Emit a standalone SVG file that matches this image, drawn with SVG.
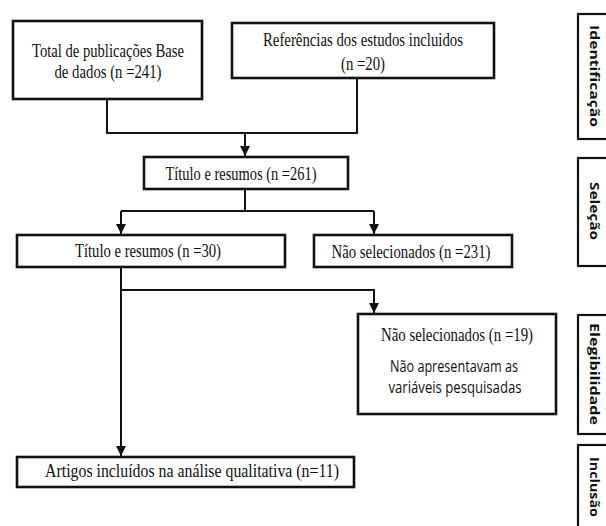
<svg xmlns="http://www.w3.org/2000/svg" width="606" height="526" viewBox="0 0 606 526">
<style>
.box{fill:#fff;stroke:#111;stroke-width:2.6}
.side{fill:#fff;stroke:#111;stroke-width:2.2}
.serif{font-family:"Liberation Serif","Times New Roman",serif;font-size:18px;fill:#111;text-anchor:middle}
.sans{font-family:"Open Sans","Liberation Sans",sans-serif;font-size:16px;fill:#111;text-anchor:middle}
.lab{font-family:"Open Sans","Liberation Sans",sans-serif;font-size:12.5px;font-weight:bold;fill:#111;text-anchor:middle}
.con{fill:none;stroke:#111;stroke-width:2}
</style>
<defs>
<marker id="ah" markerUnits="userSpaceOnUse" markerWidth="10" markerHeight="10" viewBox="0 0 10 10" refX="10" refY="5" orient="auto">
<path d="M0,0 L10,5 L0,10 Z" fill="#111"/>
</marker>
</defs>
<rect width="606" height="526" fill="#fff"/>
<g id="connectors">
<path class="con" d="M107,99 V133 H357 V78"/>
<path class="con" d="M245,133 V156" marker-end="url(#ah)"/>
<path class="con" d="M245,189 V211"/>
<path class="con" d="M121,211 H374"/>
<path class="con" d="M121,211 V234" marker-end="url(#ah)"/>
<path class="con" d="M374,211 V234" marker-end="url(#ah)"/>
<path class="con" d="M121,267 V456" marker-end="url(#ah)"/>
<path class="con" d="M121,290 H374 V313" marker-end="url(#ah)"/>
</g>
<g id="n1">
<rect class="box" x="13" y="21" width="189" height="78"/>
<text class="serif" x="108" y="57" textLength="152" lengthAdjust="spacingAndGlyphs">Total de publicações Base</text>
<text class="serif" x="108" y="78" textLength="107" lengthAdjust="spacingAndGlyphs">de dados (n =241)</text>
</g>
<g id="n2">
<rect class="box" x="232" y="23" width="262" height="55"/>
<text class="serif" x="363" y="46" textLength="200" lengthAdjust="spacingAndGlyphs">Referências dos estudos incluidos</text>
<text class="serif" x="363" y="70" textLength="44" lengthAdjust="spacingAndGlyphs">(n =20)</text>
</g>
<g id="n3">
<rect class="box" x="144" y="157" width="204" height="32"/>
<text class="serif" x="241" y="180" textLength="151" lengthAdjust="spacingAndGlyphs">Título e resumos (n =261)</text>
</g>
<g id="n4">
<rect class="box" x="17" y="235" width="268" height="32"/>
<text class="serif" x="148" y="257" textLength="146" lengthAdjust="spacingAndGlyphs">Título e resumos (n =30)</text>
</g>
<g id="n5">
<rect class="box" x="314" y="235" width="198" height="32"/>
<text class="serif" x="411" y="258" textLength="159" lengthAdjust="spacingAndGlyphs">Não selecionados (n =231)</text>
</g>
<g id="n6">
<rect class="box" x="358" y="314" width="198" height="100"/>
<text class="serif" x="457" y="341" textLength="152" lengthAdjust="spacingAndGlyphs">Não selecionados (n =19)</text>
<text class="sans" x="454" y="372" textLength="128" lengthAdjust="spacingAndGlyphs">Não apresentavam as</text>
<text class="sans" x="455" y="393" textLength="133" lengthAdjust="spacingAndGlyphs">variáveis pesquisadas</text>
</g>
<g id="n7">
<rect class="box" x="17" y="457" width="337" height="30"/>
<text class="serif" x="192" y="477" textLength="294" lengthAdjust="spacingAndGlyphs">Artigos incluídos na análise qualitativa (n=11)</text>
</g>
<g id="s1">
<rect class="side" x="578" y="14" width="40" height="125"/>
<text class="lab" transform="translate(590 76) rotate(90)" textLength="102" lengthAdjust="spacingAndGlyphs">Identificação</text>
</g>
<g id="s2">
<rect class="side" x="578" y="158" width="40" height="108"/>
<text class="lab" transform="translate(590 211) rotate(90)" textLength="58" lengthAdjust="spacingAndGlyphs">Seleção</text>
</g>
<g id="s3">
<rect class="side" x="578" y="315" width="40" height="119"/>
<text class="lab" transform="translate(590 374) rotate(90)" textLength="102" lengthAdjust="spacingAndGlyphs">Elegibilidade</text>
</g>
<g id="s4">
<rect class="side" x="578" y="445" width="40" height="100"/>
<text class="lab" transform="translate(590 487) rotate(90)" textLength="60" lengthAdjust="spacingAndGlyphs">Inclusão</text>
</g>
</svg>
